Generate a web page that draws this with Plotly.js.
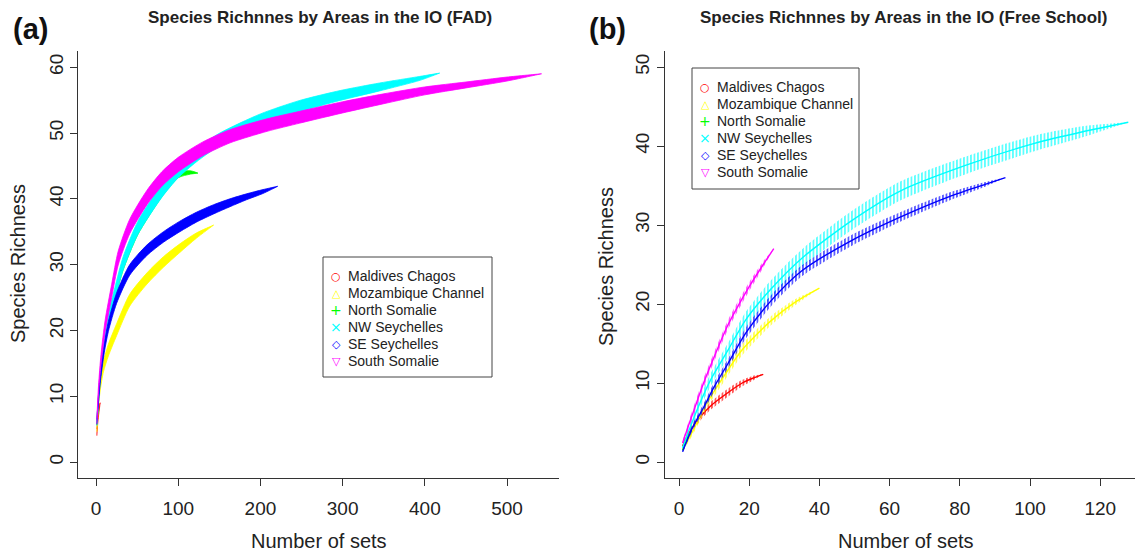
<!DOCTYPE html>
<html><head><meta charset="utf-8">
<script src="https://cdn.plot.ly/plotly-3.0.1.min.js"></script>
<style>html,body{margin:0;padding:0;background:#fff}#chart{width:1135px;height:553px}</style>
</head><body><div id="chart"></div>
<script>
// ---- categories / styles ----
const seriesNames = ['Maldives Chagos','Mozambique Channel','North Somalie','NW Seychelles','SE Seychelles','South Somalie'];
const seriesColors = ['#FF0000','#FFFF00','#00FF00','#00FFFF','#0000FF','#FF00FF'];
const legendGlyphs = ['\u25CB','\u25B3','+','\u00D7','\u25C7','\u25BD'];

// ---- panel (a): FAD ----
const fadMaldivesX = [1,2,3,4,5];
const fadMaldivesY = [4.5,6.3,7.4,8.3,9.0];
const fadMaldivesSD = [0.5,0.5,0.4,0.3,0];
const fadMozambiqueX = [1,3,5,9,15,25,41,62,82,102,122,143];
const fadMozambiqueY = [5.0,9.0,11.5,14.5,17.0,20.1,24.6,27.9,30.4,32.5,34.4,36.0];
const fadMozambiqueSD = [0.4,0.6,0.7,0.8,0.9,0.9,0.9,0.85,0.8,0.65,0.4,0];
const fadNorthSomX = [1,5,10,15,23,33,51,80,100,115,124];
const fadNorthSomY = [6,12.8,18.0,21.3,25.3,29.8,35.2,40.8,43.6,44.0,43.9];
const fadNorthSomSD = [0.3,0.5,0.6,0.6,0.6,0.6,0.6,0.5,0.4,0.25,0];
const fadNWSeyX = [1,5,10,15,23,33,51,80,100,122,150,200,248,297,345,394,418];
const fadNWSeyY = [6,13,18.2,21.5,25.6,30.2,35.6,41.2,44.2,46.6,49.0,52.0,54.1,55.7,57.0,58.3,59.1];
const fadNWSeySD = [0.5,0.7,0.8,0.9,0.95,1.0,1.0,1.0,1.0,1.0,0.95,0.9,0.85,0.75,0.6,0.3,0];
const fadSESeyX = [1,5,10,15,25,41,62,82,102,122,143,163,183,203,221];
const fadSESeyY = [6.1,12.5,17.3,20.6,24.9,29.2,32.2,34.2,35.8,37.2,38.4,39.4,40.3,41.1,41.9];
const fadSESeySD = [0.4,0.6,0.7,0.75,0.8,0.8,0.8,0.8,0.8,0.75,0.7,0.6,0.45,0.3,0];
const fadSouthSomX = [1,3,6,11,19,27,41,62,80,100,130,163,208,248,300,350,400,450,500,542];
const fadSouthSomY = [6.2,11,15.5,20.6,26.0,31.0,35.8,40.2,43.0,45.2,47.6,49.5,51.2,52.4,53.9,55.2,56.4,57.3,58.2,59.0];
const fadSouthSomSD = [0.4,0.6,0.8,0.9,1.0,1.05,1.1,1.1,1.1,1.1,1.05,1.0,0.95,0.9,0.85,0.75,0.6,0.45,0.3,0];

// ---- panel (b): Free School ----
const fsMaldivesX = [1,2,4,6,9,14,18,21,24];
const fsMaldivesY = [2.0,3.0,4.5,5.7,7.1,8.8,10.0,10.6,11.1];
const fsMaldivesSD = [0.3,0.4,0.5,0.5,0.5,0.5,0.4,0.3,0];
const fsMozambiqueX = [1,4,8,13,18,26,33,40];
const fsMozambiqueY = [1.5,4.0,7.5,11.0,14.2,17.8,20.2,22.0];
const fsMozambiqueSD = [0.3,0.5,0.6,0.7,0.7,0.6,0.4,0];
const fsNorthSomX = [1,2,3];
const fsNorthSomY = [1.5,2.6,3.5];
const fsNorthSomSD = [0.2,0.2,0];
const fsNWSeyX = [1,3,6,9,14,19,26,35,49,63,82,101,115,128];
const fsNWSeyY = [1.8,4.2,7.5,10.4,14.2,18.0,21.8,25.8,30.5,34.3,37.6,40.3,41.8,43.0];
const fsNWSeySD = [0.2,0.5,0.7,0.8,0.9,1.0,1.1,1.1,1.2,1.2,1.1,1.0,0.7,0];
const fsSESeyX = [1,4,7,10,14,19,26,35,49,63,77,87,93];
const fsSESeyY = [1.3,4.5,6.9,9.5,12.5,16.3,20.3,24.2,28.0,31.0,33.6,35.1,36.0];
const fsSESeySD = [0.2,0.4,0.5,0.6,0.6,0.7,0.7,0.7,0.7,0.6,0.5,0.3,0];
const fsSouthSomX = [1,3,5,7,10,14,17,20,24,27];
const fsSouthSomY = [2.4,5.0,7.5,10.0,13.3,17.4,19.9,22.2,25.0,27.0];
const fsSouthSomSD = [0.3,0.5,0.6,0.6,0.6,0.6,0.6,0.55,0.4,0];

const fadData = [
  [fadMaldivesX,fadMaldivesY,fadMaldivesSD],
  [fadMozambiqueX,fadMozambiqueY,fadMozambiqueSD],
  [fadNorthSomX,fadNorthSomY,fadNorthSomSD],
  [fadNWSeyX,fadNWSeyY,fadNWSeySD],
  [fadSESeyX,fadSESeyY,fadSESeySD],
  [fadSouthSomX,fadSouthSomY,fadSouthSomSD]
];
const fsData = [
  [fsMaldivesX,fsMaldivesY,fsMaldivesSD],
  [fsMozambiqueX,fsMozambiqueY,fsMozambiqueSD],
  [fsNorthSomX,fsNorthSomY,fsNorthSomSD],
  [fsNWSeyX,fsNWSeyY,fsNWSeySD],
  [fsSESeyX,fsSESeyY,fsSESeySD],
  [fsSouthSomX,fsSouthSomY,fsSouthSomSD]
];

function bandTrace(x, m, sd, color, xa, ya, hatched) {
  const up = m.map((v,i)=>v+sd[i]);
  const lo = m.map((v,i)=>v-sd[i]);
  const t = {
    x: x.concat(x.slice().reverse()),
    y: up.concat(lo.slice().reverse()),
    xaxis: xa, yaxis: ya, mode: 'lines', fill: 'toself',
    line: {color: color, width: hatched ? 0 : 0.8, shape: 'spline', smoothing: 0.7},
    showlegend: false, hoverinfo: 'skip'
  };
  if (hatched) {
    t.fillcolor = 'rgba(0,0,0,0)';
    t.fillpattern = {shape: '|', size: 3.5, solidity: 0.32, fgcolor: color, bgcolor: 'rgba(0,0,0,0)', fgopacity: 1};
  } else {
    t.fillcolor = color;
  }
  return t;
}
function lineTrace(x, m, color, xa, ya, w) {
  return {x: x, y: m, xaxis: xa, yaxis: ya, mode: 'lines',
    line: {color: color, width: w, shape: 'spline', smoothing: 0.7},
    showlegend: false, hoverinfo: 'skip'};
}

const traces = [];
fadData.forEach((d,i)=>{
  traces.push(bandTrace(d[0], d[1], d[2], seriesColors[i], 'x', 'y', false));
});
fsData.forEach((d,i)=>{
  traces.push(bandTrace(d[0], d[1], d[2], seriesColors[i], 'x2', 'y2', true));
  traces.push(lineTrace(d[0], d[1], seriesColors[i], 'x2', 'y2', 1.4));
});

const W = 1135, H = 553;
const FONT = 'Liberation Sans, Arial, sans-serif';
const axisCommon = {
  showline: true, linecolor: '#333', linewidth: 1, mirror: false,
  ticks: 'outside', ticklen: 7, tickwidth: 1, tickcolor: '#333',
  showgrid: false, zeroline: false, fixedrange: true,
  tickfont: {family: FONT, size: 19, color: '#222'}
};
const px = v => v / W;
const py = v => 1 - v / H;

const annotations = [];
function ann(text, x, y, size, opts) {
  annotations.push(Object.assign({text: text, x: px(x), y: py(y), xref: 'paper', yref: 'paper',
    showarrow: false, xanchor: 'center', yanchor: 'middle',
    font: {family: FONT, size: size, color: '#222'}}, opts || {}));
}
ann('<b>(a)</b>', 30, 29, 29, {font: {family: FONT, size: 29, color: '#111'}});
ann('<b>(b)</b>', 607, 29, 29, {font: {family: FONT, size: 29, color: '#111'}});
ann('<b>Species Richnnes by Areas in the IO (FAD)</b>', 320, 17, 17, {font: {family: FONT, size: 17, color: '#222'}});
ann('<b>Species Richnnes by Areas in the IO (Free School)</b>', 904, 17, 17, {font: {family: FONT, size: 17, color: '#222'}});
ann('Number of sets', 319, 541, 20);
ann('Number of sets', 906, 541, 20);
ann('Species Richness', 18, 264, 20, {textangle: -90});
ann('Species Richness', 606, 267, 20, {textangle: -90});

const shapes = [];
function legendBox(x0, y0, x1, y1, firstRow, step) {
  shapes.push({type: 'rect', xref: 'paper', yref: 'paper', x0: px(x0), x1: px(x1), y0: py(y1), y1: py(y0),
    line: {color: '#444', width: 1}, fillcolor: 'rgba(255,255,255,1)'});
  seriesNames.forEach((n,i)=>{
    const yy = firstRow + i*step;
    ann(n, x0 + 23, yy, 14, {xanchor: 'left'});
    ann(legendGlyphs[i], x0 + 13, yy, i===2||i===3 ? 14 : 11,
      {font: {family: 'DejaVu Sans, sans-serif', size: (i===2||i===3) ? 14 : 11, color: seriesColors[i]}});
  });
}
legendBox(323, 257, 492, 377, 276, 17);
legendBox(692, 68, 859, 189, 87.5, 16.9);

const layout = {
  width: W, height: H, margin: {l: 0, r: 0, t: 0, b: 0},
  paper_bgcolor: '#fff', plot_bgcolor: '#fff', showlegend: false,
  xaxis: Object.assign({}, axisCommon, {domain: [px(78.2), px(559.4)], range: [-21.7, 563.7],
    tickvals: [0,100,200,300,400,500], anchor: 'y', ticklabelstandoff: 6}),
  yaxis: Object.assign({}, axisCommon, {domain: [py(477.8), py(51.4)], range: [-2.4, 62.4],
    tickvals: [0,10,20,30,40,50,60], tickangle: -90, anchor: 'x'}),
  xaxis2: Object.assign({}, axisCommon, {domain: [px(664.7), 1], range: [-4.08, 129.91],
    tickvals: [0,20,40,60,80,100,120], anchor: 'y2', ticklabelstandoff: 6}),
  yaxis2: Object.assign({}, axisCommon, {domain: [py(477.8), py(51.2)], range: [-2, 52],
    tickvals: [0,10,20,30,40,50], tickangle: -90, anchor: 'x2'}),
  annotations: annotations, shapes: shapes
};
Plotly.newPlot('chart', traces, layout, {staticPlot: true, displayModeBar: false});
</script></body></html>
